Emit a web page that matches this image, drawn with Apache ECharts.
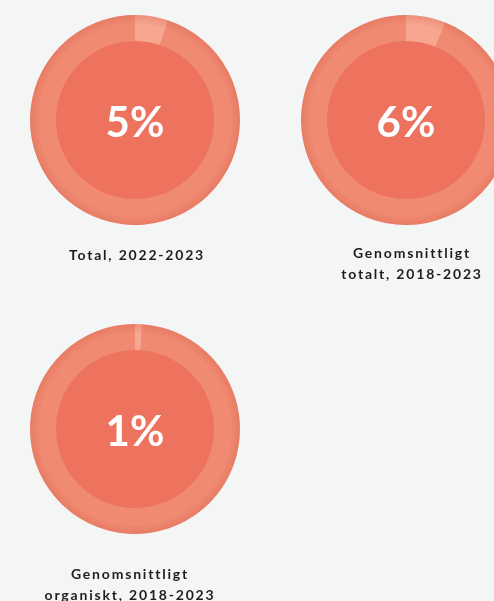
<!DOCTYPE html>
<html>
<head>
<meta charset="utf-8">
<script src="https://cdn.jsdelivr.net/npm/echarts@6/dist/echarts.min.js"></script>
<style>
  html, body { margin: 0; padding: 0; background: #f4f5f5; }
  .wrap { position: relative; width: 494px; height: 601px; }
  #chart { width: 494px; height: 601px; }
  .caption {
    position: absolute;
    width: 240px;
    margin-left: -120px;
    text-align: center;
    font: bold 14px/21px Lato, sans-serif;
    letter-spacing: 1.8px;
    color: #1e1e1e;
  }
</style>
</head>
<body>
<div class="wrap">
  <div id="chart"></div>
</div>
<script>
// 数据
const labels = ['Total, 2022-2023', 'Genomsnittligt<br>totalt, 2018-2023', 'Genomsnittligt<br>organiskt, 2018-2023']
const values = [5, 6, 1]

// 每个环形图的位置
const centers = [[135, 120], [406, 120], [135, 429]]
const labelPos = [[137, 244], [412, 242], [130, 563]]

const ringColor = '#f08a72'
const markColor = '#f7a68f'
const coreColor = '#ee735f'

const series = []
const graphics = []

values.forEach((v, i) => {
  // 外环
  series.push({
    type: 'pie',
    center: centers[i],
    radius: [78, 105],
    startAngle: 90,
    clockwise: true,
    silent: true,
    label: { show: false },
    labelLine: { show: false },
    itemStyle: { borderWidth: 0 },
    data: [
      { value: v, itemStyle: { color: markColor } },
      { value: 100 - v, itemStyle: { color: ringColor } }
    ]
  })
  // 外边缘阴影
  series.push({
    type: 'pie',
    center: centers[i],
    radius: [96, 105],
    silent: true,
    label: { show: false },
    itemStyle: {
      color: new echarts.graphic.RadialGradient(0.5, 0.5, 0.5, [
        { offset: 0.91, color: 'rgba(210,85,65,0)' },
        { offset: 1, color: 'rgba(210,85,65,0.28)' }
      ])
    },
    data: [{ value: 1 }]
  })
  // 内圆
  series.push({
    type: 'pie',
    center: centers[i],
    radius: [0, 79],
    silent: true,
    itemStyle: { color: coreColor },
    label: { show: false },
    labelLine: { show: false },
    data: [{ value: v }]
  })
  // 百分比
  graphics.push({
    type: 'text',
    x: centers[i][0],
    y: centers[i][1] + 3,
    silent: true,
    z: 10,
    style: {
      text: v + '%',
      fill: '#ffffff',
      font: 'bold 42px Lato',
      align: 'center',
      verticalAlign: 'middle'
    }
  })
})

// 说明文字
const wrap = document.querySelector('.wrap')
labels.forEach((t, i) => {
  const d = document.createElement('div')
  d.className = 'caption'
  d.style.left = labelPos[i][0] + 'px'
  d.style.top = labelPos[i][1] + 'px'
  d.innerHTML = t
  wrap.appendChild(d)
})

const chart = echarts.init(document.getElementById('chart'))
chart.setOption({
  backgroundColor: '#f4f5f5',
  animation: false,
  series: series,
  graphic: graphics
})
</script>
</body>
</html>
